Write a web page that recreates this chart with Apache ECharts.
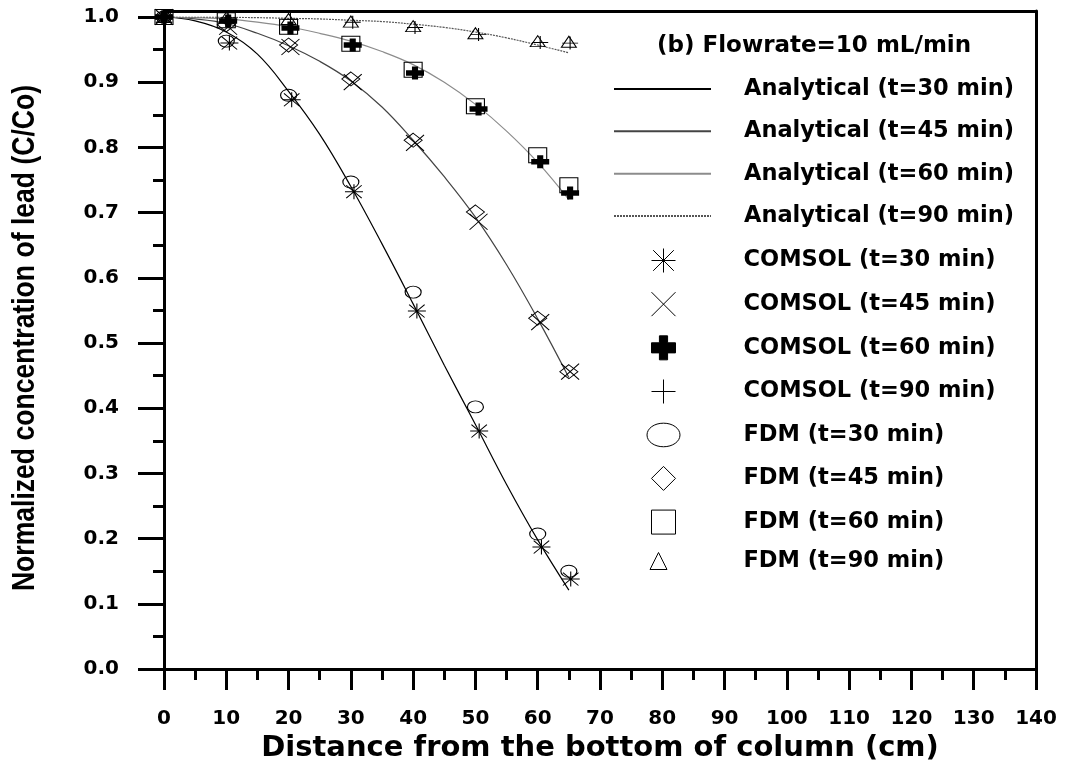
<!DOCTYPE html>
<html>
<head>
<meta charset="utf-8">
<script src="https://cdn.jsdelivr.net/npm/echarts@6/dist/echarts.min.js"></script>
<style>
  html, body { margin: 0; padding: 0; background: #fff; }
  #chart { width: 1068px; height: 762px; }
</style>
</head>
<body>
<div id="chart"></div>
<script>
// analytical curves
var curveX       = [0, 5, 10, 15, 20, 25, 30, 35, 40, 45, 50, 55, 60, 65];
var analytical30 = [1.0, 0.994, 0.977, 0.943, 0.886, 0.82, 0.74, 0.652, 0.56, 0.466, 0.375, 0.283, 0.198, 0.121];
var analytical45 = [1.0, 0.997, 0.99, 0.975, 0.956, 0.932, 0.902, 0.862, 0.811, 0.755, 0.693, 0.62, 0.537, 0.447];
var analytical60 = [1.0, 0.999, 0.997, 0.992, 0.985, 0.975, 0.963, 0.947, 0.927, 0.9, 0.866, 0.825, 0.777, 0.72];
var analytical90 = [1.0, 1.0, 0.9995, 0.999, 0.998, 0.997, 0.995, 0.993, 0.989, 0.984, 0.977, 0.968, 0.957, 0.945];

// COMSOL points
var comsolX30 = [0, 10.5, 20.5, 30.5, 40.6, 50.6, 60.6, 65.3];
var comsol30  = [1.0, 0.960, 0.873, 0.732, 0.549, 0.365, 0.187, 0.138];
var comsolX   = [0, 10.3, 20.3, 30.3, 40.3, 50.5, 60.4, 65.2];
var comsol45  = [1.0, 0.985, 0.954, 0.900, 0.807, 0.686, 0.532, 0.456];
var comsol60  = [1.0, 0.994, 0.983, 0.957, 0.914, 0.859, 0.778, 0.730];
var comsol90  = [1.0, 0.999, 0.996, 0.992, 0.984, 0.973, 0.961, 0.960];

// FDM points
var fdmX   = [0, 10, 20, 30, 40, 50, 60, 65];
var fdm30  = [1.0, 0.963, 0.880, 0.747, 0.578, 0.402, 0.207, 0.150];
var fdm45  = [1.0, 0.988, 0.957, 0.905, 0.811, 0.701, 0.538, 0.456];
var fdm60  = [1.0, 0.995, 0.985, 0.959, 0.919, 0.863, 0.788, 0.742];
var fdm90  = [1.0, 0.999, 0.997, 0.993, 0.986, 0.975, 0.963, 0.962];

var xTicks = [0, 140, 10];
var yTicks = [0, 1, 0.1];

var FONT = '"DejaVu Sans", sans-serif';
var ARIAL = '"Liberation Sans", Arial, sans-serif';

// marker shapes
var SYM = {
    asterisk: 'path://M0,5L10,5M5,0L5,10M0.7,0.7L9.3,9.3M0.7,9.3L9.3,0.7',
    cross:    'path://M0,0L10,10M0,10L10,0',
    boldPlus: 'path://M3.3,0L6.7,0L6.7,2.9L10,2.9L10,7.1L6.7,7.1L6.7,10L3.3,10L3.3,7.1L0,7.1L0,2.9L3.3,2.9Z',
    plus:     'path://M0,5L10,5M5,0L5,10',
    ellipse:  'path://M0,5C0,2.2 3.1,0 7,0C10.9,0 14,2.2 14,5C14,7.8 10.9,10 7,10C3.1,10 0,7.8 0,5Z',
    diamond:  'path://M5,0L10,5L5,10L0,5Z',
    square:   'path://M0,0L10,0L10,10L0,10Z',
    triangle: 'path://M5,0L10,10L0,10Z'
};

function zip(xs, ys) {
    return xs.map(function (x, i) { return [x, ys[i]]; });
}

function curve(name, ys, color, type) {
    return {
        name: name,
        type: 'line',
        data: zip(curveX, ys),
        smooth: 0.4,
        symbol: 'none',
        z: 2,
        itemStyle: { color: color },
        lineStyle: { color: color, width: 1.2, type: type || 'solid' }
    };
}

function points(name, xs, ys, symbol, size, filled) {
    return {
        name: name,
        type: 'scatter',
        data: zip(xs, ys),
        symbol: symbol,
        symbolSize: size,
        z: 3,
        itemStyle: {
            color: filled ? '#000' : 'rgba(0,0,0,0)',
            borderColor: '#000',
            borderWidth: filled ? 0 : 1,
            opacity: 1
        }
    };
}

var lineNames = ['Analytical (t=30 min)', 'Analytical (t=45 min)', 'Analytical (t=60 min)', 'Analytical (t=90 min)'];
var markNames = ['COMSOL (t=30 min)', 'COMSOL (t=45 min)', 'COMSOL (t=60 min)', 'COMSOL (t=90 min)',
                 'FDM (t=30 min)', 'FDM (t=45 min)', 'FDM (t=60 min)'];

var series = [
    curve(lineNames[0], analytical30, '#000'),
    curve(lineNames[1], analytical45, '#444'),
    curve(lineNames[2], analytical60, '#8c8c8c'),
    curve(lineNames[3], analytical90, '#555', [2, 1]),
    points(markNames[0], comsolX30, comsol30, SYM.asterisk, [18, 15]),
    points(markNames[1], comsolX, comsol45, SYM.cross, [18, 16]),
    points(markNames[2], comsolX, comsol60, SYM.boldPlus, [18, 13], true),
    points(markNames[3], comsolX, comsol90, SYM.plus, [16, 13]),
    points(markNames[4], fdmX, fdm30, SYM.ellipse, [16, 12]),
    points(markNames[5], fdmX, fdm45, SYM.diamond, [18, 14]),
    points(markNames[6], fdmX, fdm60, SYM.square, [18, 15]),
    points('FDM (t=90 min)', fdmX, fdm90, SYM.triangle, [15, 11])
];

var legendText = { fontFamily: FONT, fontWeight: 'bold', fontSize: 22.5, color: '#000', lineHeight: 24 };

function legendBox(names, left, top, w, h, gap, pad, itemStyle) {
    return {
        data: names,
        orient: 'vertical',
        left: left,
        top: top,
        padding: 0,
        itemWidth: w,
        itemHeight: h,
        itemGap: gap,
        selectedMode: false,
        itemStyle: itemStyle || { borderWidth: 1 },
        textStyle: Object.assign({ padding: [0, 0, 0, pad] }, legendText)
    };
}

var tickStyle = { color: '#000', width: 3 };
var frame = { onZero: false, lineStyle: { color: '#000', width: 3 } };

var chart = echarts.init(document.getElementById('chart'));
chart.setOption({
    animation: false,
    backgroundColor: '#fff',
    title: {
        text: '(b) Flowrate=10 mL/min',
        left: 657,
        top: 34,
        padding: 0,
        textStyle: { fontFamily: FONT, fontWeight: 'bold', fontSize: 23, color: '#000', lineHeight: 24 }
    },
    legend: [
        legendBox(lineNames, 613, 77, 97, 24, 18.33, 28,
                  { color: 'rgba(0,0,0,0)', borderColor: 'rgba(0,0,0,0)', borderWidth: 0, opacity: 0 }),
        legendBox(markNames, 646.5, 248, 33, 24, 18.67, 58.5),
        legendBox(['FDM (t=90 min)'], 649.5, 549, 27, 17, 0, 66.5)
    ],
    grid: [
        { left: 164, right: 32, top: 17, bottom: 93, outerBoundsMode: 'none' },
        { left: 164, right: 32, top: 11, bottom: 93, outerBoundsMode: 'none' }
    ],
    graphic: [{
        type: 'text',
        x: 25,
        y: 338,
        rotation: Math.PI / 2,
        scaleX: 0.83,
        style: {
            text: 'Normalized concentration of lead (C/Co)',
            fontFamily: ARIAL,
            fontWeight: 'bold',
            fontSize: 32,
            fill: '#000',
            align: 'center',
            verticalAlign: 'middle'
        }
    }],
    xAxis: [{
        type: 'value',
        gridIndex: 0,
        min: xTicks[0],
        max: xTicks[1],
        interval: xTicks[2],
        name: 'Distance from the bottom of column (cm)',
        nameLocation: 'middle',
        nameGap: 61,
        nameTextStyle: { fontFamily: FONT, fontWeight: 'bold', fontSize: 29, color: '#000' },
        axisLine: frame,
        axisTick: { length: 21, lineStyle: tickStyle },
        minorTick: { show: true, splitNumber: 2, length: 11, lineStyle: tickStyle },
        splitLine: { show: false },
        axisLabel: { margin: 40, fontFamily: FONT, fontWeight: 'bold', fontSize: 20, color: '#000' }
    }, {
        type: 'value',
        gridIndex: 1,
        position: 'top',
        min: 0,
        max: 1,
        axisLine: frame,
        axisTick: { show: false },
        axisLabel: { show: false },
        splitLine: { show: false }
    }],
    yAxis: [{
        type: 'value',
        gridIndex: 0,
        min: yTicks[0],
        max: yTicks[1],
        interval: yTicks[2],
        axisLine: frame,
        axisTick: { length: 26, lineStyle: tickStyle },
        minorTick: { show: true, splitNumber: 2, length: 11, lineStyle: tickStyle },
        splitLine: { show: false },
        axisLabel: {
            margin: 45,
            fontFamily: FONT, fontWeight: 'bold', fontSize: 20, color: '#000',
            formatter: function (v) { return v.toFixed(1); }
        }
    }, {
        type: 'value',
        gridIndex: 1,
        position: 'left',
        min: 0,
        max: 1,
        axisLine: frame,
        axisTick: { show: false },
        axisLabel: { show: false },
        splitLine: { show: false }
    }, {
        type: 'value',
        gridIndex: 1,
        position: 'right',
        min: 0,
        max: 1,
        axisLine: frame,
        axisTick: { show: false },
        axisLabel: { show: false },
        splitLine: { show: false }
    }],
    series: series
});
</script>
</body>
</html>
